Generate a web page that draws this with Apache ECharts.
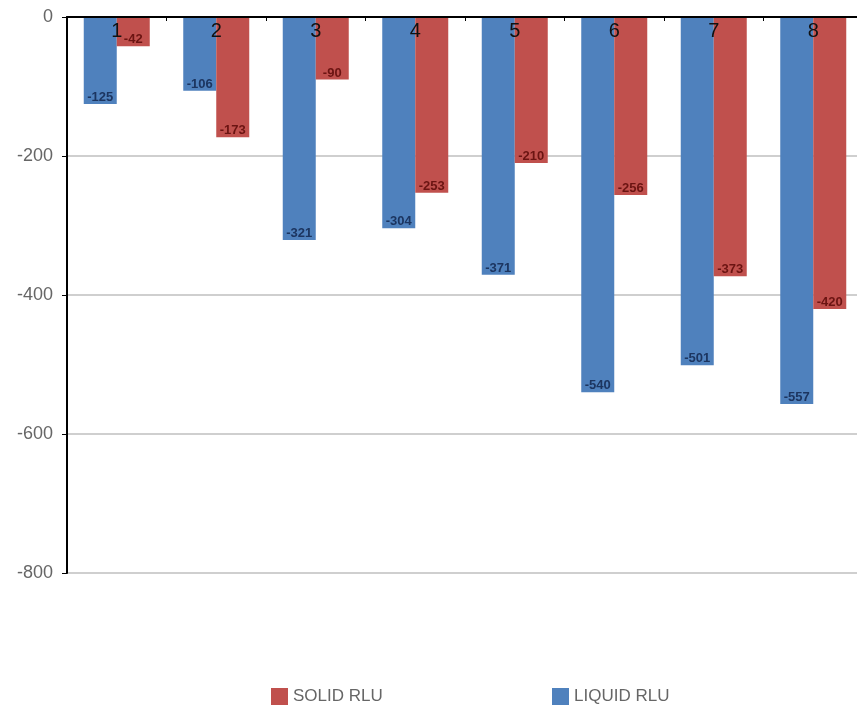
<!DOCTYPE html>
<html><head><meta charset="utf-8">
<script src="https://cdn.jsdelivr.net/npm/echarts@6/dist/echarts.min.js"></script>
<style>html,body{margin:0;padding:0;background:#fff}#c{width:857px;height:706px}</style>
</head><body><div id="c"></div>
<script>
const categories = ['1','2','3','4','5','6','7','8'];
const liquidRLU = [-125, -106, -321, -304, -371, -540, -501, -557];
const solidRLU = [-42, -173, -90, -253, -210, -256, -373, -420];
const yTicks = { min: -800, max: 0, interval: 200 };

const chart = echarts.init(document.getElementById('c'));
chart.setOption({
  animation: false,
  grid: { left: 67, width: 796, top: 17, bottom: 133, containLabel: false, outerBoundsMode: 'none' },
  legend: [
    { data: ['SOLID RLU'], left: 266, top: 683, itemWidth: 17, itemHeight: 17, icon: 'rect',
      textStyle: { color: '#666', fontSize: 17, fontFamily: 'Liberation Sans' } },
    { data: ['LIQUID RLU'], left: 547, top: 683, itemWidth: 17, itemHeight: 17, icon: 'rect',
      textStyle: { color: '#666', fontSize: 17, fontFamily: 'Liberation Sans' } }
  ],
  xAxis: {
    type: 'category', data: categories, position: 'top', z: 5,
    axisLine: { lineStyle: { color: '#000', width: 2 } },
    axisTick: { show: true, inside: true, length: 4, lineStyle: { color: '#000' } },
    axisLabel: { inside: true, margin: 4, color: '#111', fontSize: 20, fontFamily: 'Liberation Sans' }
  },
  yAxis: {
    type: 'value', min: yTicks.min, max: yTicks.max, interval: yTicks.interval,
    axisLine: { show: true, lineStyle: { color: '#000', width: 2 } },
    axisTick: { show: true, length: 5, lineStyle: { color: '#000' } },
    axisLabel: { color: '#666', fontSize: 18, margin: 14, fontFamily: 'Liberation Sans' },
    splitLine: { lineStyle: { color: '#cfcfcf', width: 2 } }
  },
  series: [
    { name: 'LIQUID RLU', type: 'bar', data: liquidRLU, barWidth: 33, barGap: '0%',
      itemStyle: { color: '#4f81bd' },
      label: { show: true, position: 'insideBottom', distance: 0, color: '#1c3560', fontSize: 13, fontWeight: 'bold', fontFamily: 'Liberation Sans' } },
    { name: 'SOLID RLU', type: 'bar', data: solidRLU, barWidth: 33, barGap: '0%',
      itemStyle: { color: '#c0504d' },
      label: { show: true, position: 'insideBottom', distance: 0, color: '#6b1412', fontSize: 13, fontWeight: 'bold', fontFamily: 'Liberation Sans' } }
  ]
});
</script></body></html>
